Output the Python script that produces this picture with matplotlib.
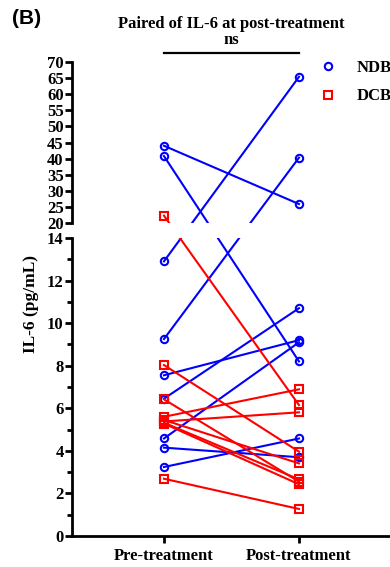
import numpy as np
import matplotlib
matplotlib.use("Agg")
import matplotlib.pyplot as plt
from matplotlib.lines import Line2D
from matplotlib.patches import Rectangle
import matplotlib.transforms as mtransforms

# IL-6 (pg/mL), paired pre/post values per patient
ndb_pre = [44.0, 40.8, 12.9, 9.25, 7.55, 6.45, 4.58, 4.15, 3.24]
ndb_post = [25.9, 8.2, 65.4, 40.3, 9.2, 10.7, 9.1, 3.7, 4.58]
dcb_pre = [22.3, 8.03, 6.42, 5.6, 5.45, 5.38, 5.32, 5.28, 2.69]
dcb_post = [6.15, 3.96, 2.55, 6.89, 3.41, 5.81, 2.66, 2.43, 1.27]

groups = ["Pre-treatment", "Post-treatment"]
low_ticks = [0, 2, 4, 6, 8, 10, 12, 14]
high_ticks = [20, 25, 30, 35, 40, 45, 50, 55, 60, 65, 70]

# broken axis: 0-14 linear, gap, 20-70 compressed
BRK_LO, BRK_HI = 14.0, 20.0
GAP = 0.70
K = 0.1513

def fwd(y):
    y = np.asarray(y, dtype=float)
    mid = BRK_LO + (y - BRK_LO) / (BRK_HI - BRK_LO) * GAP
    hi = BRK_LO + GAP + (y - BRK_HI) * K
    return np.where(y <= BRK_LO, y, np.where(y >= BRK_HI, hi, mid))

def inv(t):
    t = np.asarray(t, dtype=float)
    mid = BRK_LO + (t - BRK_LO) / GAP * (BRK_HI - BRK_LO)
    hi = BRK_HI + (t - BRK_LO - GAP) / K
    return np.where(t <= BRK_LO, t, np.where(t >= BRK_LO + GAP, hi, mid))

serif = "Liberation Serif"
blue = "#0000ff"
red = "#ff0000"

fig = plt.figure(figsize=(3.9, 5.67), dpi=100)
ax = fig.add_axes([72 / 390, 1 - 536 / 567, 318 / 390, (536 - 62) / 567])
ax.set_yscale("function", functions=(fwd, inv))

x = [0, 1]
for a, b in zip(ndb_pre, ndb_post):
    ax.plot(x, [a, b], color=blue, lw=1.5, marker="o", ms=5.3, mfc="none",
            mew=1.5, zorder=2)
for a, b in zip(dcb_pre, dcb_post):
    ax.plot(x, [a, b], color=red, lw=1.5, marker="s", ms=5.3, mfc="none",
            mew=1.5, zorder=2)

ax.set_xlim(-0.681, 1.674)
ax.set_ylim(0, 70)

# white band hides everything inside the break
trans = mtransforms.blended_transform_factory(ax.transAxes, ax.transData)
ax.add_patch(Rectangle((0, BRK_LO), 1, BRK_HI - BRK_LO, transform=trans,
                       facecolor="white", edgecolor="none", zorder=3))

# left spine drawn as two pieces
ax.spines["left"].set_visible(False)
ax.spines["top"].set_visible(False)
ax.spines["right"].set_visible(False)
ax.spines["bottom"].set_linewidth(2)
ax.plot([0, 0], [0, BRK_LO], color="black", lw=2, transform=trans,
        clip_on=False, zorder=4, solid_capstyle="projecting")
ax.plot([0, 0], [BRK_HI, 70], color="black", lw=2, transform=trans,
        clip_on=False, zorder=4, solid_capstyle="projecting")

ax.set_yticks(low_ticks + high_ticks)
ax.set_yticklabels([str(t) for t in low_ticks + high_ticks])
ax.set_yticks(list(range(1, 14, 2)), minor=True)
ax.set_xticks(x)
ax.set_xticklabels(groups)

ax.tick_params(axis="y", which="major", length=5, width=2, labelsize=12, pad=1)
ax.tick_params(axis="y", which="minor", length=3.5, width=2)
ax.tick_params(axis="x", which="major", length=5, width=2, labelsize=12, pad=4)
for lab in ax.get_xticklabels() + ax.get_yticklabels():
    lab.set_fontfamily(serif)
    lab.set_fontweight("bold")

ax.set_ylabel("IL-6 (pg/mL)", fontfamily=serif, fontweight="bold", fontsize=12.5)
ax.yaxis.set_label_coords(-33 / 318, 0.49)

# significance bar
ax.plot(x, [72.8, 72.8], color="black", lw=1.6, clip_on=False)
fig.text(231 / 390, 1 - 40 / 567, "ns", ha="center", va="center",
         fontfamily=serif, fontweight="bold", fontsize=12)
fig.text(231 / 390, 1 - 24 / 567, "Paired of IL-6 at post-treatment",
         ha="center", va="center", fontfamily=serif, fontweight="bold",
         fontsize=12)
fig.text(12 / 390, 1 - 18 / 567, "(B)", ha="left", va="center",
         fontfamily="Liberation Sans", fontweight="bold", fontsize=15)

handles = [
    Line2D([], [], color=blue, marker="o", ms=5.3, mfc="none", mew=1.5, ls="none"),
    Line2D([], [], color=red, marker="s", ms=5.3, mfc="none", mew=1.5, ls="none"),
]
fig.legend(handles, ["NDB", "DCB"], loc="upper left",
           bbox_to_anchor=(318 / 390, 1 - 60 / 567), frameon=False,
           handlelength=1.2, handletextpad=1.1, labelspacing=0.75,
           borderaxespad=0, borderpad=0,
           prop={"family": serif, "weight": "bold", "size": 12})

fig.savefig("out.png", dpi=100)
